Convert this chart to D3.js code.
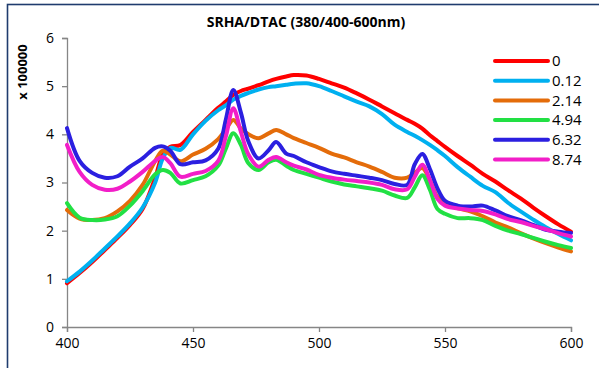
<!DOCTYPE html>
<html>
<head>
<meta charset="utf-8">
<script src="https://cdn.jsdelivr.net/npm/d3@7"></script>
<style>
  html, body { margin: 0; padding: 0; background: #fff; }
  svg { display: block; font-family: "Open Sans", sans-serif; }
</style>
</head>
<body>
<svg id="chart" width="599" height="368"></svg>
<script>
// Emission wavelength grid (nm)
const wavelengths = [400,405,410,415,420,425,430,435,438,441,445,450,455,460,463,466,469,472,476,480,483,487,490,495,500,505,510,515,520,525,530,535,538,541,544,547,550,555,560,565,570,575,580,585,590,595,600];

// Series names (legend labels)
const seriesNames = ["0", "0.12", "2.14", "4.94", "6.32", "8.74"];
const seriesColors = ["#ff0000", "#00b0f0", "#e46c0a", "#22e044", "#2b1fe0", "#f21ec8"];

// Intensities, in units of 100000
const s0    = [0.91,1.12,1.35,1.6,1.85,2.12,2.45,3.1,3.58,3.74,3.78,4.05,4.3,4.55,4.68,4.82,4.9,4.95,5.02,5.1,5.15,5.2,5.23,5.22,5.15,5.06,4.97,4.85,4.72,4.58,4.44,4.3,4.22,4.12,3.98,3.86,3.74,3.55,3.37,3.18,3.02,2.84,2.67,2.48,2.3,2.13,1.98];
const s012  = [0.95,1.15,1.38,1.63,1.88,2.15,2.48,3.0,3.5,3.72,3.68,4.0,4.28,4.5,4.6,4.72,4.8,4.86,4.93,4.98,5.0,5.03,5.05,5.06,5.0,4.9,4.79,4.68,4.58,4.42,4.2,4.05,3.97,3.88,3.78,3.67,3.55,3.32,3.12,2.93,2.8,2.58,2.4,2.23,2.07,1.93,1.8];
const s214  = [2.43,2.25,2.22,2.26,2.4,2.62,2.95,3.45,3.66,3.58,3.44,3.58,3.7,3.9,4.1,4.3,4.12,4.0,3.92,4.02,4.09,4.0,3.92,3.82,3.72,3.6,3.52,3.42,3.33,3.22,3.1,3.1,3.2,3.3,3.05,2.7,2.58,2.47,2.4,2.3,2.17,2.07,1.95,1.84,1.74,1.65,1.57];
const s494  = [2.57,2.27,2.22,2.23,2.3,2.52,2.82,3.17,3.26,3.2,2.98,3.05,3.13,3.35,3.7,4.02,3.78,3.4,3.26,3.42,3.47,3.35,3.26,3.18,3.1,3.02,2.96,2.92,2.88,2.83,2.73,2.68,2.9,3.15,2.85,2.45,2.35,2.26,2.26,2.22,2.1,2.0,1.93,1.85,1.77,1.7,1.64];
const s632  = [4.13,3.45,3.2,3.1,3.13,3.33,3.5,3.72,3.75,3.66,3.38,3.42,3.46,3.7,4.3,4.92,4.45,3.85,3.5,3.67,3.84,3.6,3.55,3.42,3.32,3.23,3.18,3.14,3.1,3.05,2.97,2.95,3.38,3.59,3.28,2.88,2.62,2.52,2.5,2.52,2.42,2.3,2.22,2.12,2.02,1.98,1.95];
const s874  = [3.78,3.22,2.95,2.85,2.87,3.02,3.22,3.45,3.53,3.4,3.12,3.18,3.24,3.45,3.95,4.54,4.05,3.58,3.33,3.47,3.53,3.42,3.35,3.27,3.16,3.1,3.06,3.03,3.0,2.95,2.86,2.86,3.12,3.37,3.05,2.66,2.52,2.46,2.43,2.41,2.34,2.24,2.18,2.1,2.03,1.95,1.88];

const seriesValues = [s0, s012, s214, s494, s632, s874];

// Axis ticks
const xTicks = [400, 450, 500, 550, 600];
const yTicks = [0, 1, 2, 3, 4, 5, 6];

const svg = d3.select("#chart");
const axisColor = "#868686";

// Outer frame of the chart
svg.append("rect")
  .attr("x", 7.5).attr("y", 4.5)
  .attr("width", 620).attr("height", 400)
  .attr("fill", "none")
  .attr("stroke", "#1f3c6e")
  .attr("stroke-width", 1.6);

const plot = { left: 67, right: 571, top: 38, bottom: 327 };

const x = d3.scaleLinear().domain([400, 600]).range([plot.left, plot.right]);
const y = d3.scaleLinear().domain([0, 6]).range([plot.bottom, plot.top]);

// Title
svg.append("text")
  .attr("x", 306).attr("y", 27)
  .attr("text-anchor", "middle")
  .attr("font-size", 14).attr("font-weight", "bold")
  .attr("fill", "#000")
  .text("SRHA/DTAC (380/400-600nm)");

// Y axis
const yAxis = svg.append("g")
  .attr("transform", `translate(${plot.left},0)`)
  .call(d3.axisLeft(y).tickValues(yTicks).tickFormat(d3.format("d")).tickSize(5).tickPadding(8));
// X axis
const xAxis = svg.append("g")
  .attr("transform", `translate(0,${plot.bottom})`)
  .call(d3.axisBottom(x).tickValues(xTicks).tickFormat(d3.format("d")).tickSize(5).tickPadding(6));

[yAxis, xAxis].forEach(g => {
  g.select(".domain").attr("stroke", axisColor).attr("stroke-width", 1.3);
  g.selectAll(".tick line").attr("stroke", axisColor).attr("stroke-width", 1.3);
  g.selectAll(".tick text").attr("fill", "#000").attr("font-size", 14)
    .attr("font-family", "'Open Sans', sans-serif");
});

// Y axis title
svg.append("text")
  .attr("transform", "translate(27,72) rotate(-90)")
  .attr("text-anchor", "middle")
  .attr("font-size", 13).attr("font-weight", "bold")
  .attr("fill", "#000")
  .text("x 100000");

// Spectra
const line = d3.line()
  .x((d, i) => x(wavelengths[i]))
  .y(d => y(d))
  .curve(d3.curveCatmullRom.alpha(0.5));

svg.append("g").selectAll("path")
  .data(seriesValues)
  .join("path")
  .attr("d", d => line(d))
  .attr("fill", "none")
  .attr("stroke", (d, i) => seriesColors[i])
  .attr("stroke-width", 4)
  .attr("stroke-linejoin", "round")
  .attr("stroke-linecap", "round");

// Legend
const legend = svg.append("g").attr("transform", "translate(495,61)");
const rows = legend.selectAll("g")
  .data(seriesNames)
  .join("g")
  .attr("transform", (d, i) => `translate(0,${i * 19.7})`);
rows.append("line")
  .attr("x1", 0).attr("x2", 53)
  .attr("stroke", (d, i) => seriesColors[i])
  .attr("stroke-width", 4)
  .attr("stroke-linecap", "round");
rows.append("text")
  .attr("x", 57).attr("y", 0)
  .attr("dy", "0.35em")
  .attr("font-size", 15)
  .attr("fill", "#000")
  .text(d => d);
</script>
</body>
</html>
